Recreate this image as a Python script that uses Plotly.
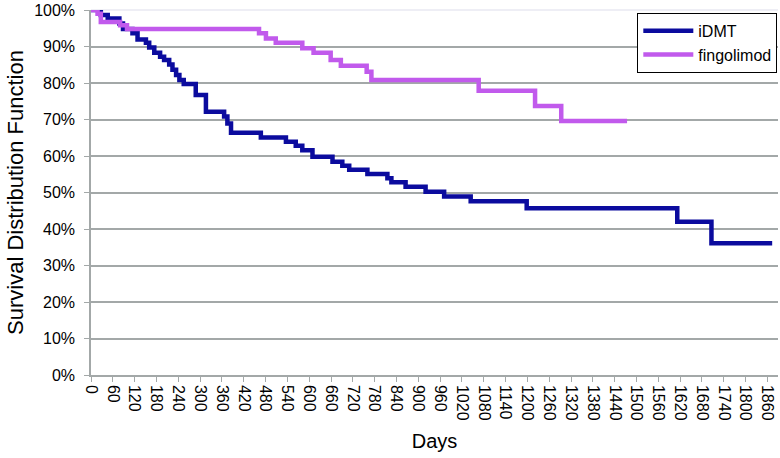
import plotly.graph_objects as go

# Kaplan-Meier curves (days, survival fraction)
IDMT_DIAS = [0, 27, 46, 78, 88, 114, 128, 151, 160, 174, 190, 201, 215, 224, 234,
             243, 255, 288, 316, 366, 375, 385, 467, 536, 563, 581, 609, 664, 691,
             710, 760, 815, 826, 865, 920, 971, 1044, 1198, 1612, 1706, 1873]
IDMT_SUPERV = [1.0, 0.986, 0.977, 0.963, 0.948, 0.936, 0.919, 0.910, 0.897, 0.883,
               0.872, 0.863, 0.851, 0.836, 0.822, 0.808, 0.797, 0.767, 0.721, 0.708,
               0.689, 0.664, 0.651, 0.639, 0.628, 0.616, 0.598, 0.584, 0.573, 0.562,
               0.551, 0.539, 0.528, 0.516, 0.502, 0.489, 0.476, 0.457, 0.420, 0.361,
               0.361]

FINGO_DIAS = [0, 18, 27, 80, 99, 462, 481, 508, 581, 612, 659, 687, 758, 771, 1066,
              1221, 1293, 1474]
FINGO_SUPERV = [1.0, 0.99, 0.967, 0.958, 0.948, 0.936, 0.922, 0.910, 0.895, 0.883,
                0.863, 0.847, 0.831, 0.808, 0.779, 0.737, 0.696, 0.696]

X_TICKS = [0, 60, 120, 180, 240, 300, 360, 420, 480, 540, 600, 660, 720, 780, 840,
           900, 960, 1020, 1080, 1140, 1200, 1260, 1320, 1380, 1440, 1500, 1560,
           1620, 1680, 1740, 1800, 1860]
Y_TICKS = [0, 0.1, 0.2, 0.3, 0.4, 0.5, 0.6, 0.7, 0.8, 0.9, 1.0]

FUENTE = "Arial, Liberation Sans, sans-serif"
GRIS = "#a3a8a8"

fig = go.Figure()
fig.add_trace(go.Scatter(x=IDMT_DIAS, y=IDMT_SUPERV, mode="lines", name="iDMT",
                         line=dict(color="#0b0b9e", width=4.5, shape="hv")))
fig.add_trace(go.Scatter(x=FINGO_DIAS, y=FINGO_SUPERV, mode="lines", name="fingolimod",
                         line=dict(color="#c15aec", width=4.5, shape="hv")))

# la línea del 100% es muy tenue en el original
fig.add_shape(type="line", xref="x domain", yref="y domain", x0=0, x1=1, y0=1, y1=1,
              line=dict(color="#eeeef5", width=2), layer="below")

fig.update_layout(
    width=780, height=458,
    margin=dict(l=91, r=2, t=10, b=83),
    paper_bgcolor="white", plot_bgcolor="white",
    font=dict(family=FUENTE, color="black"),
    legend=dict(x=0.999, y=0.992, xanchor="right", yanchor="top",
                bordercolor="black", borderwidth=1, bgcolor="white",
                font=dict(size=16), tracegroupgap=0, itemwidth=50),
    xaxis=dict(range=[0, 1889], tickvals=X_TICKS, tickangle=90,
               tickfont=dict(size=16), showgrid=False, zeroline=False,
               showline=True, linecolor=GRIS, linewidth=1.5,
               ticks="outside", ticklen=5, tickcolor=GRIS,
               title=dict(text="Days", font=dict(size=20), standoff=14)),
    yaxis=dict(range=[0, 1], tickvals=Y_TICKS, tickformat=".0%",
               tickfont=dict(size=16), showgrid=True, gridcolor=GRIS,
               gridwidth=1.5, zeroline=False, ticklabelstandoff=6,
               showline=True, linecolor=GRIS, linewidth=1.5,
               ticks="outside", ticklen=5, tickcolor=GRIS,
               title=dict(text="Survival Distribution Function",
                          font=dict(size=22), standoff=4)),
)

# sin el margen de 8 px del body la figura ocupa la ventana completa
fig.write_html("out.html", config={"displayModeBar": False},
               post_script="document.body.style.margin='0';")
